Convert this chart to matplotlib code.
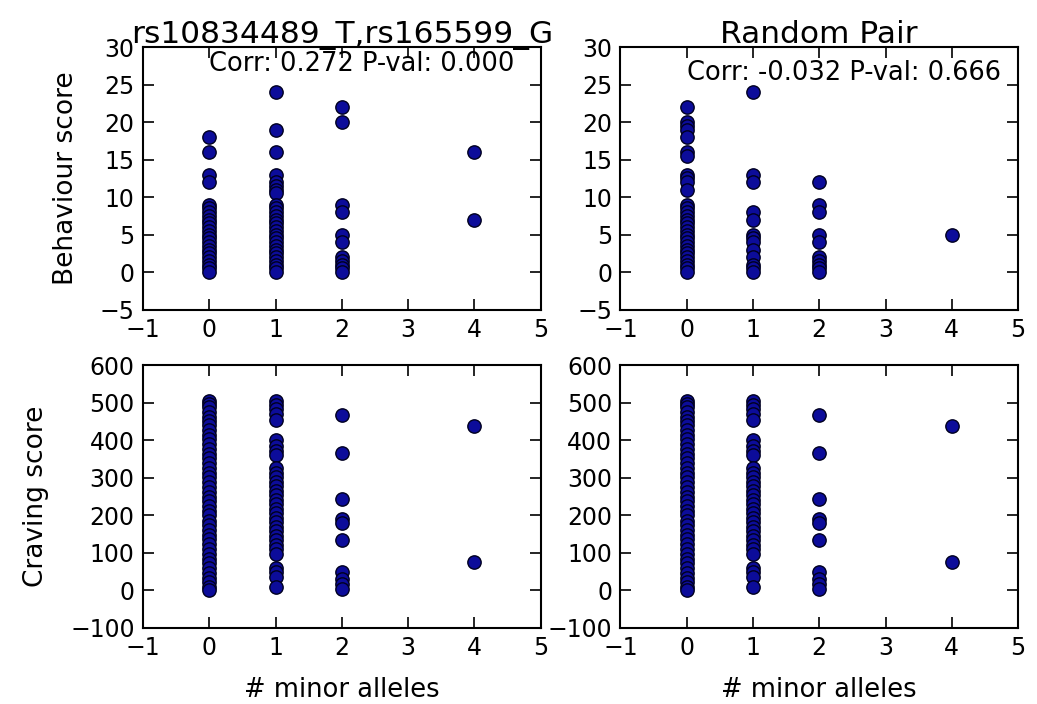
import matplotlib
matplotlib.use("Agg")
import matplotlib.pyplot as plt

# ---- data ----
genotypes = [0, 1, 2, 4]

pair_beh_g0 = [18, 16, 13, 12, 9, 8.5, 8, 7.5, 7, 6.5, 6, 5.5, 5, 4.5, 4, 3.5, 3, 2.5, 2, 1.5, 1, 0.5, 0]
pair_beh_g1 = [24, 19, 16, 13, 12, 11.5, 11, 10.5, 9, 8.5, 8, 7.5, 7, 6.5, 6, 5.5, 5, 4.5, 4, 3.5, 3, 2.5, 2, 1.5, 1, 0.5, 0]
pair_beh_g2 = [22, 20, 9, 8, 5, 4, 2, 1.5, 1, 0.5, 0]
pair_beh_g4 = [16, 7]

rand_beh_g0 = [22, 20, 19.5, 19, 18, 16, 15.5, 13, 12.5, 12, 11, 9, 8.5, 8, 7.5, 7, 6.5, 6, 5.5, 5, 4.5, 4, 3.5, 3, 2.5, 2, 1.5, 1, 0.5, 0]
rand_beh_g1 = [24, 13, 12, 8, 7, 5, 4.5, 4, 3, 2, 1, 0.5, 0]
rand_beh_g2 = [12, 9, 8, 5, 4, 2, 1.5, 1, 0.5, 0]
rand_beh_g4 = [5]

crave_g0 = [505, 497, 488, 476, 463, 452, 440, 428, 414, 403, 391, 377, 365, 352, 340, 327, 314, 302,
            290, 277, 263, 250, 238, 225, 212, 200, 186, 174, 161, 148, 136, 123, 110, 97, 85, 72,
            60, 47, 34, 22, 10, 0]
crave_g1 = [505, 495, 485, 470, 455, 400, 385, 372, 361, 326, 314, 302, 290, 278, 266, 254, 242, 230,
            218, 206, 194, 182, 170, 158, 146, 134, 122, 110, 96, 61, 48, 35, 9]
crave_g2 = [468, 367, 244, 190, 180, 135, 48, 30, 17, 4]
crave_g4 = [438, 76]

titles = ["rs10834489_T,rs165599_G", "Random Pair"]
corr_texts = ["Corr: 0.272 P-val: 0.000", "Corr: -0.032 P-val: 0.666"]
ylabels = ["Behaviour score", "Craving score"]
xlabel = "# minor alleles"

xticks = [-1, 0, 1, 2, 3, 4, 5]
beh_ticks = [-5, 0, 5, 10, 15, 20, 25, 30]
crave_ticks = [-100, 0, 100, 200, 300, 400, 500, 600]


def stack(groups):
    xs, ys = [], []
    for g, vals in zip(genotypes, groups):
        xs += [g] * len(vals)
        ys += list(vals)
    return xs, ys


panels = [
    [stack([pair_beh_g0, pair_beh_g1, pair_beh_g2, pair_beh_g4]),
     stack([rand_beh_g0, rand_beh_g1, rand_beh_g2, rand_beh_g4])],
    [stack([crave_g0, crave_g1, crave_g2, crave_g4]),
     stack([crave_g0, crave_g1, crave_g2, crave_g4])],
]

plt.rcParams["font.family"] = "DejaVu Sans"
plt.rcParams["axes.unicode_minus"] = True

fig, axes = plt.subplots(2, 2, figsize=(10.37, 7.04), dpi=100)
fig.patch.set_facecolor("white")
fig.subplots_adjust(left=0.1379, right=0.9817, top=0.9332, bottom=0.108,
                    wspace=0.201, hspace=0.213)

tick_fs = 17
label_fs = 18.5
for r in range(2):
    for c in range(2):
        ax = axes[r][c]
        xs, ys = panels[r][c]
        ax.plot(xs, ys, "o", markersize=9.6, markerfacecolor="#0c0c9a",
                markeredgecolor="#000020", markeredgewidth=1.0, linestyle="none")
        ax.set_xlim(-1, 5)
        ax.set_xticks(xticks)
        if r == 0:
            ax.set_ylim(-5, 30)
            ax.set_yticks(beh_ticks)
        else:
            ax.set_ylim(-100, 600)
            ax.set_yticks(crave_ticks)
        ax.tick_params(direction="in", top=True, right=True, length=8, width=1.2,
                       labelsize=tick_fs, pad=6)
        for sp in ax.spines.values():
            sp.set_linewidth(1.5)
        if c == 0:
            ax.set_ylabel(ylabels[r], fontsize=19, labelpad=15)
        if r == 1:
            ax.set_xlabel(xlabel, fontsize=label_fs, labelpad=12)

axes[0][0].set_title(titles[0], fontsize=22.5, pad=3)
axes[0][1].set_title(titles[1], fontsize=22.5, pad=3)
axes[0][0].text(0, 27.7, corr_texts[0], fontsize=18.5, ha="left", va="center")
axes[0][1].text(0, 26.6, corr_texts[1], fontsize=18.5, ha="left", va="center")

fig.savefig("out.png", dpi=100, facecolor="white")
